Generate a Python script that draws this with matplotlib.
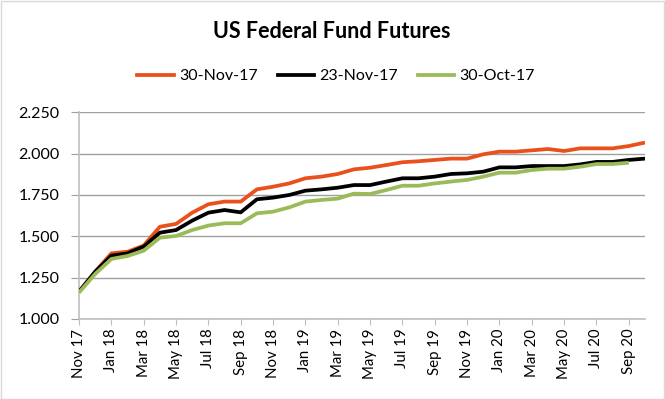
import matplotlib
matplotlib.use("Agg")
import matplotlib.pyplot as plt
from matplotlib.patches import Rectangle
from matplotlib.lines import Line2D

months = ["Nov 17", "Dec 17", "Jan 18", "Feb 18", "Mar 18", "Apr 18", "May 18", "Jun 18",
          "Jul 18", "Aug 18", "Sep 18", "Oct 18", "Nov 18", "Dec 18", "Jan 19", "Feb 19",
          "Mar 19", "Apr 19", "May 19", "Jun 19", "Jul 19", "Aug 19", "Sep 19", "Oct 19",
          "Nov 19", "Dec 19", "Jan 20", "Feb 20", "Mar 20", "Apr 20", "May 20", "Jun 20",
          "Jul 20", "Aug 20", "Sep 20", "Oct 20"]

nov30 = [1.165, 1.286, 1.397, 1.407, 1.444, 1.558, 1.575, 1.643, 1.694, 1.710, 1.710, 1.784,
         1.800, 1.820, 1.851, 1.861, 1.877, 1.905, 1.915, 1.931, 1.948, 1.954, 1.962, 1.970,
         1.970, 1.996, 2.012, 2.012, 2.020, 2.028, 2.016, 2.032, 2.032, 2.032, 2.046, 2.067]
nov23 = [1.165, 1.286, 1.383, 1.397, 1.438, 1.522, 1.538, 1.595, 1.643, 1.659, 1.645, 1.724,
         1.734, 1.750, 1.776, 1.784, 1.794, 1.810, 1.810, 1.831, 1.851, 1.851, 1.861, 1.877,
         1.881, 1.891, 1.917, 1.917, 1.925, 1.925, 1.925, 1.935, 1.950, 1.950, 1.962, 1.970]
oct30 = [1.160, 1.272, 1.363, 1.381, 1.413, 1.492, 1.502, 1.538, 1.565, 1.579, 1.579, 1.639,
         1.649, 1.675, 1.710, 1.720, 1.728, 1.758, 1.756, 1.780, 1.806, 1.806, 1.820, 1.831,
         1.841, 1.861, 1.885, 1.885, 1.901, 1.909, 1.909, 1.921, 1.937, 1.937, 1.945]

series_names = ["30-Nov-17", "23-Nov-17", "30-Oct-17"]
colors = ["#E9501C", "#000000", "#9BBB59"]

yticks = [1.0, 1.25, 1.5, 1.75, 2.0, 2.25]

fam = ["Lato", "DejaVu Sans"]
plt.rcParams["font.family"] = fam

fig = plt.figure(figsize=(6.65, 3.99), dpi=100)
ax = fig.add_axes([79/665, 1-319/399, (645-79)/665, (319-112.3)/399])

x = list(range(len(months)))
for vals, c in zip([nov30, nov23, oct30], colors):
    ax.plot(x[:len(vals)], vals, color=c, lw=2.7, solid_joinstyle="round", solid_capstyle="butt", zorder=3)

ax.set_xlim(0, len(months) - 1)
ax.set_ylim(1.0, 2.25)
ax.set_yticks(yticks)
ax.set_yticklabels([f"{v:.3f}" for v in yticks], fontsize=11.5)
ax.set_xticks(x[::2])
ax.set_xticklabels(months[::2], rotation=90, fontsize=10.8)

grid_c = "#A0A0A0"
ax.grid(axis="y", color=grid_c, lw=1.0)
ax.set_axisbelow(True)
for s in ["top", "right"]:
    ax.spines[s].set_visible(False)
for s in ["left", "bottom"]:
    ax.spines[s].set_color("#BFBFBF")
    ax.spines[s].set_linewidth(1.2)
ax.tick_params(axis="y", length=6, color=grid_c, pad=8)
ax.tick_params(axis="x", length=4, color="#BFBFBF", pad=3)

fig.text(332/665, 1-32/399, "US Federal Fund Futures", ha="center", va="center",
         fontsize=15.5, fontweight="bold")

handles = [Line2D([0], [0], color=c, lw=2.7) for c in colors]
fig.legend(handles, series_names, loc="center", bbox_to_anchor=(336/665, 1-76/399),
           ncol=3, frameon=False, fontsize=11.5, handlelength=2.3, handletextpad=0.3,
           columnspacing=1.25)

fig.add_artist(Rectangle((0.5/665, 0.5/399), 1-1.5/665, 1-1.5/399, transform=fig.transFigure,
                         fill=False, edgecolor="#D9D9D9", lw=1))

fig.savefig("out.png", dpi=100, facecolor="white")
